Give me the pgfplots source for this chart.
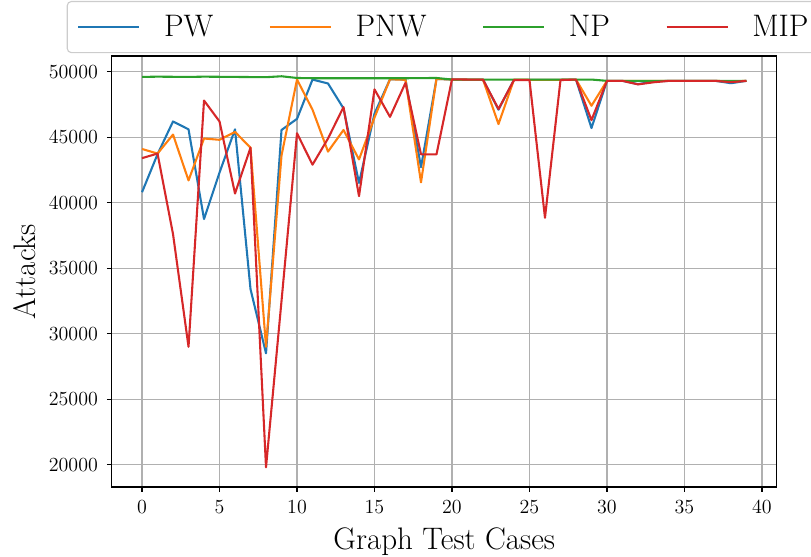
\documentclass[border=0pt]{standalone}
\usepackage{pgfplots}
\pgfplotsset{compat=1.18}

\definecolor{tabblue}{HTML}{1F77B4}
\definecolor{taborange}{HTML}{FF7F0E}
\definecolor{tabgreen}{HTML}{2CA02C}
\definecolor{tabred}{HTML}{D62728}

\begin{document}
\begin{tikzpicture}
\begin{axis}[
    scale only axis,
    width=478.7pt, height=310.3pt,
    xmin=-1.95, xmax=40.95,
    ymin=18300, ymax=51200,
    xtick={0,5,...,40},
    ytick={20000,25000,...,50000},
    scaled y ticks=false,
    tick label style={font=\fontsize{14}{16}\selectfont},
    yticklabel style={xshift=-3pt, /pgf/number format/.cd, fixed, 1000 sep={}},
    xticklabel style={yshift=-3pt},
    label style={font=\fontsize{22.4}{26}\selectfont},
    xlabel={Graph Test Cases},
    ylabel={Attacks},
    xlabel style={at={(axis description cs:0.5,-0.146)}, anchor=base},
    ylabel style={at={(axis description cs:-0.1305,0.5)}, anchor=center},
    grid=major,
    major grid style={color=black!31, line width=0.8pt},
    axis line style={black, line width=0.8pt},
    tick style={black, line width=0.8pt},
    major tick length=3.5pt,
    tick align=outside,
    xtick pos=bottom, ytick pos=left,
    every axis plot/.append style={line width=1.5pt, line join=round},
    legend columns=4,
    legend image code/.code={\draw[#1] (0pt,0pt) -- (44pt,0pt);},
    legend style={
        at={(0.5,1)}, anchor=south, yshift=2pt,
        font=\fontsize{22.4}{26}\selectfont,
        draw=black!20, line width=0.8pt, rounded corners=3pt,
        inner xsep=7.2pt, inner ysep=8pt,
        /tikz/every odd column/.append style={column sep=15pt},
        /tikz/every even column/.append style={column sep=38pt},
    },
]
% PW
\addplot[tabblue] coordinates {
(0,40800) (1,43700) (2,46200) (3,45600) (4,38750) (5,42300) (6,45600) (7,33400)
(8,28500) (9,45550) (10,46400) (11,49400) (12,49100) (13,47200) (14,41500) (15,46800)
(16,49420) (17,49400) (18,42700) (19,49450) (20,49400) (21,49400) (22,49400) (23,47100)
(24,49380) (25,49380) (26,49380) (27,49380) (28,49400) (29,45700) (30,49300) (31,49300)
(32,49050) (33,49250) (34,49300) (35,49300) (36,49300) (37,49300) (38,49120) (39,49300)
};
% PNW
\addplot[taborange] coordinates {
(0,44100) (1,43750) (2,45200) (3,41700) (4,44900) (5,44800) (6,45400) (7,44200)
(8,29000) (9,43600) (10,49400) (11,47100) (12,43900) (13,45550) (14,43300) (15,46500)
(16,49420) (17,49380) (18,41550) (19,49450) (20,49400) (21,49400) (22,49400) (23,46000)
(24,49400) (25,49380) (26,49380) (27,49380) (28,49400) (29,47400) (30,49300) (31,49300)
(32,49300) (33,49300) (34,49300) (35,49300) (36,49300) (37,49300) (38,49250) (39,49300)
};
% NP
\addplot[tabgreen] coordinates {
(0,49600) (1,49620) (2,49610) (3,49600) (4,49620) (5,49610) (6,49600) (7,49590)
(8,49580) (9,49650) (10,49520) (11,49500) (12,49500) (13,49500) (14,49500) (15,49500)
(16,49500) (17,49500) (18,49510) (19,49520) (20,49400) (21,49400) (22,49400) (23,49400)
(24,49400) (25,49400) (26,49400) (27,49400) (28,49400) (29,49400) (30,49300) (31,49300)
(32,49300) (33,49300) (34,49300) (35,49300) (36,49300) (37,49300) (38,49300) (39,49300)
};
% MIP
\addplot[tabred] coordinates {
(0,43400) (1,43750) (2,37600) (3,29000) (4,47800) (5,46200) (6,40700) (7,44200)
(8,19800) (9,32500) (10,45300) (11,42900) (12,44900) (13,47300) (14,40500) (15,48650)
(16,46550) (17,49150) (18,43690) (19,43690) (20,49420) (21,49400) (22,49400) (23,47150)
(24,49360) (25,49360) (26,38850) (27,49360) (28,49400) (29,46300) (30,49300) (31,49300)
(32,49030) (33,49190) (34,49300) (35,49300) (36,49300) (37,49300) (38,49200) (39,49300)
};
\legend{PW,PNW,NP,MIP}
\end{axis}
\pgfresetboundingbox
\useasboundingbox ([xshift=-80.5pt,yshift=-50.4pt]current axis.south west)
    rectangle ([xshift=24.7pt,yshift=40.3pt]current axis.north east);
\end{tikzpicture}
\end{document}
